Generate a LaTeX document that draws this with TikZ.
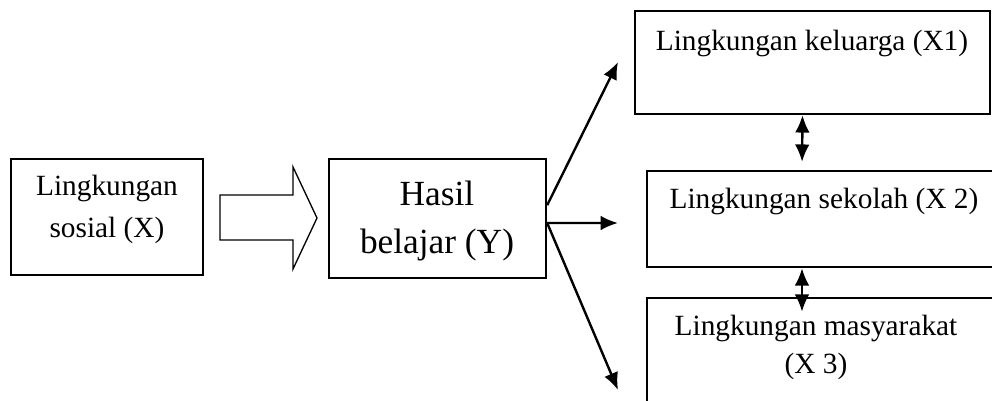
\documentclass[tikz,border=0pt]{standalone}
\usepackage{fontspec}
\setmainfont{Liberation Serif}
\usetikzlibrary{arrows.meta}
\tikzset{every picture/.style={line width=0.75pt}}
\tikzset{
  kotak/.style={draw, line width=1.8pt, inner sep=0pt},
  teks/.style={inner sep=0pt, anchor=base, align=center, font=\fontsize{22pt}{31.5pt}\selectfont},
  panah/.style={line width=1.8pt, -{Latex[length=13pt,width=11pt]}},
  panahdua/.style={line width=1.8pt, {Latex[length=13pt,width=11pt]}-{Latex[length=13pt,width=11pt]}},
}

\begin{document}
\begin{tikzpicture}[x=0.75pt,y=0.75pt,yscale=-1,xscale=1]
        \useasboundingbox (0,0) rectangle (992,400);

        % Kotak
        \node [kotak, minimum width=144pt, minimum height=87pt] (sosial) at (107,217) {};
        \node [kotak, minimum width=162.75pt, minimum height=89.25pt] (hasil) at (437.5,218.5) {};
        \node [kotak, minimum width=266.25pt, minimum height=77.25pt] (keluarga) at (812.5,62.5) {};
        \node [kotak, minimum width=265.5pt, minimum height=72pt] (sekolah) at (824,219) {};
        \node [kotak, minimum width=265.5pt, minimum height=91.5pt] (masyarakat) at (824,359) {};

        % Panah blok
        \draw [line width=1pt] (220,195) -- (293,195) -- (293,167) -- (317,218) -- (293,269) -- (293,240) -- (220,240) -- cycle ;

        % Text Node (base = baris terakhir)
        \node [teks] (tsosial) at (107,237) {Lingkungan\\sosial (X)};
        \node [teks, font=\fontsize{26.5pt}{36pt}\selectfont] (thasil) at (437,253) {Hasil\\belajar (Y)};
        \node [teks] (tkeluarga) at (812,50) {Lingkungan keluarga (X1)};
        \node [teks] (tsekolah) at (824,208) {Lingkungan sekolah (X 2)};
        \node [teks, font=\fontsize{22pt}{28.5pt}\selectfont] (tmasyarakat) at (816,373) {Lingkungan masyarakat\\(X 3)};

        % Panah
        \coordinate (u1) at (618,62);
        \coordinate (u2) at (618,223);
        \coordinate (u3) at (618,390);
        \draw [panah] ([yshift=-10pt]hasil.east) -- (u1);
        \draw [panah] ([yshift=3.4pt]hasil.east) -- (u2);
        \draw [panah] ([yshift=3.4pt]hasil.east) -- (u3);

        % Panah dua arah
        \draw [panahdua, shorten >=6pt] ([xshift=-7.5pt]keluarga.south) -- ([xshift=-16.5pt]sekolah.north);
        \draw [panahdua, shorten >=-11.25pt] ([xshift=-16.5pt]sekolah.south) -- ([xshift=-16.5pt]masyarakat.north);

\end{tikzpicture}
\end{document}
